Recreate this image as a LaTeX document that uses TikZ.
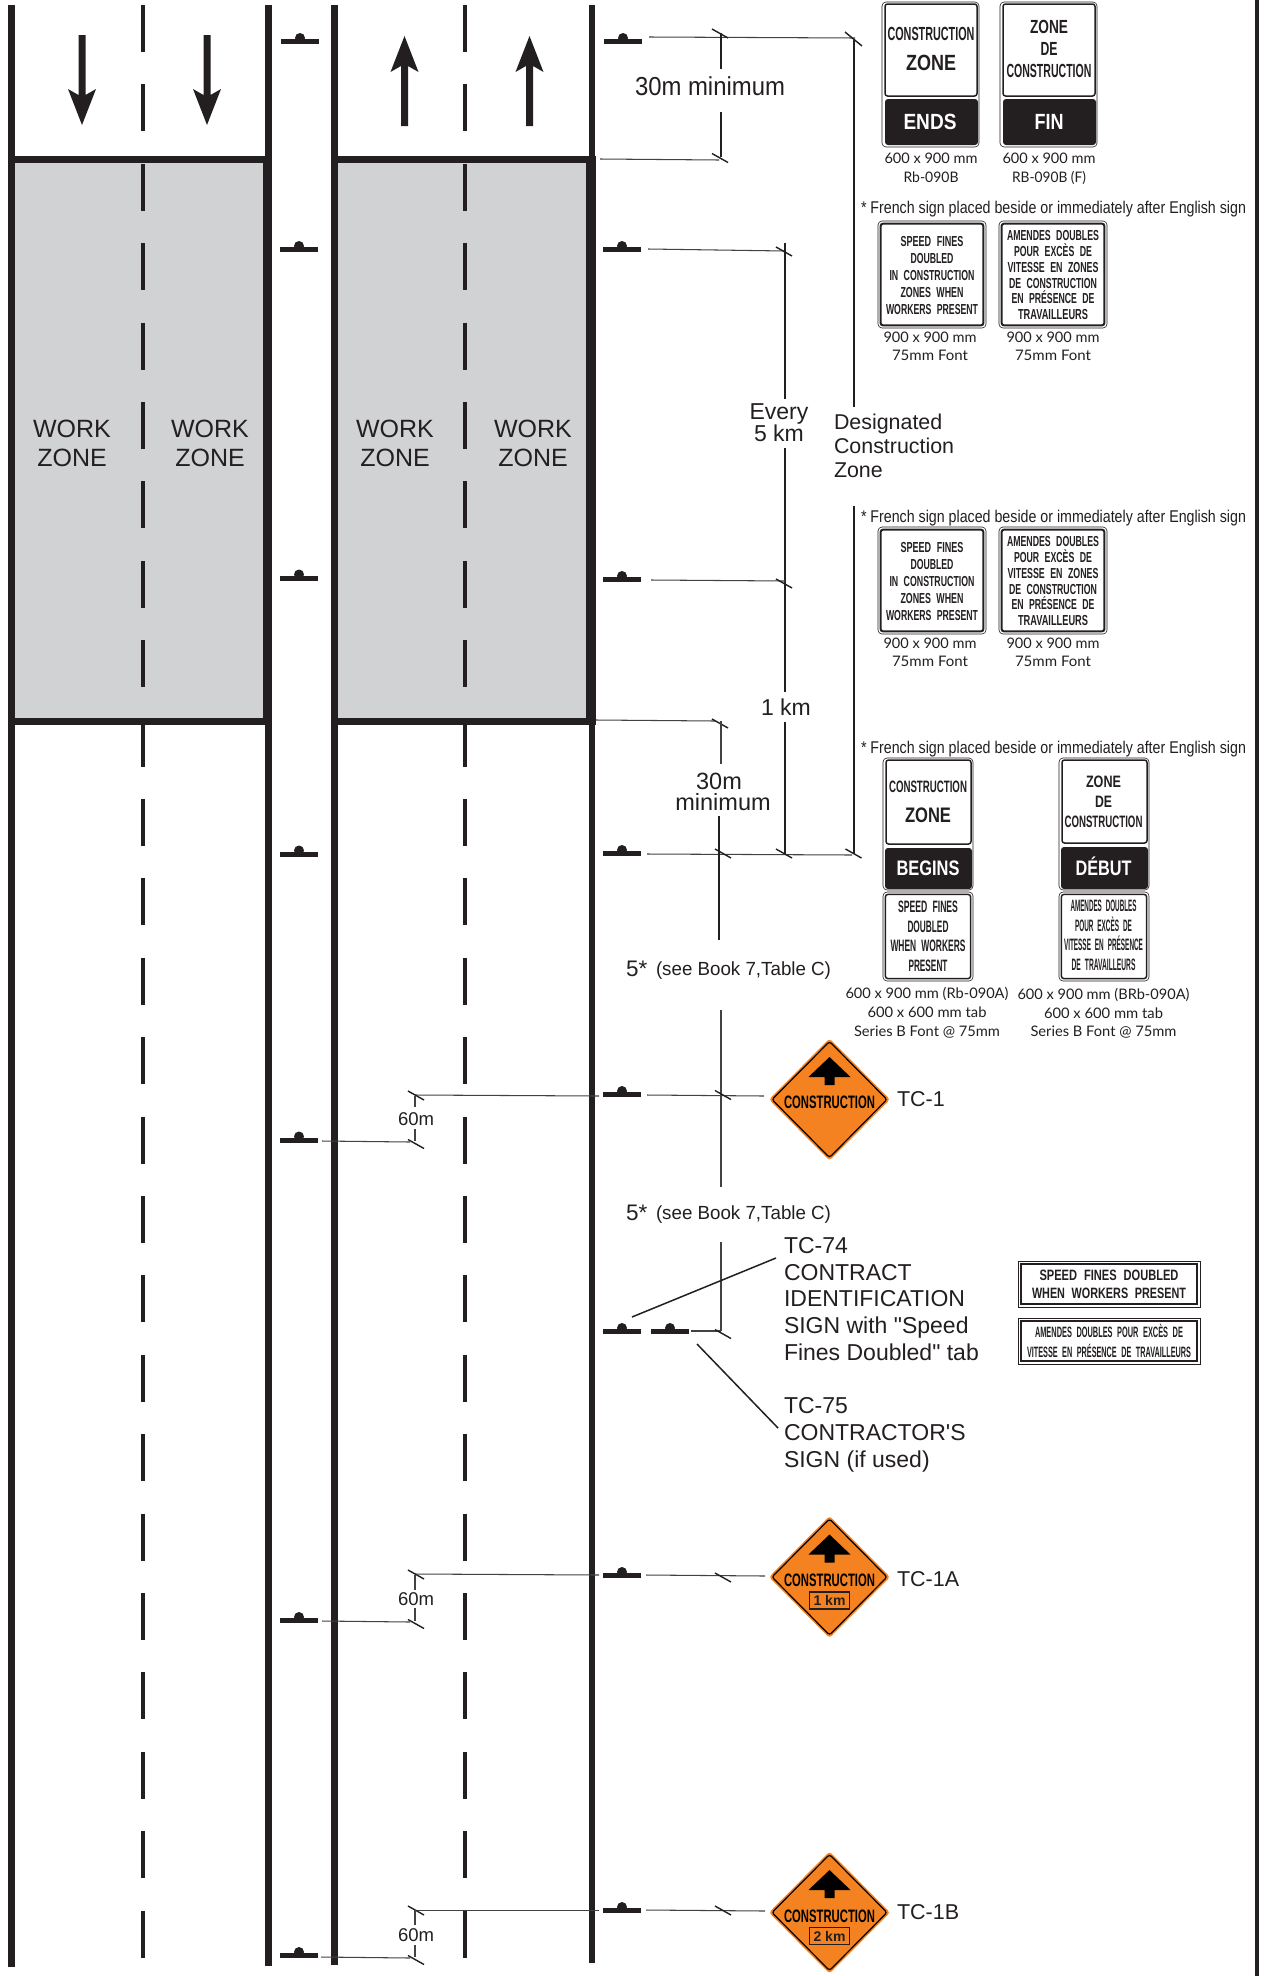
\documentclass[tikz,border=0pt]{standalone}
\usepackage{fontspec}
\usepackage{graphicx}
\setmainfont{Liberation Sans}
\newfontfamily\capfont{Lato}
\newfontfamily\plainf{Liberation Sans}
\definecolor{ink}{HTML}{231F20}
\definecolor{zonegray}{HTML}{D1D2D4}
\definecolor{signorange}{HTML}{F58220}
% fitted sign text: x, y, width, size, text
\newcommand\signtxt[6][ink]{%
  \pgfmathsetmacro\myh{0.72*#5}%
  \node[inner sep=0pt,outer sep=0pt,text=#1,text height=\myh pt,text depth=0pt,font=\bfseries]
    at (#2,#3) {\fontsize{#5}{#5}\selectfont\spaceskip=.62em\relax\resizebox{#4pt}{\height}{#6}};}
% regular fitted label
\newcommand\fittxt[5]{%
  \pgfmathsetmacro\myh{0.72*#4}%
  \node[inner sep=0pt,outer sep=0pt,text=ink,text height=\myh pt,text depth=0pt]
    at (#1,#2) {\fontsize{#4}{#4}\selectfont\resizebox{#3pt}{\height}{#5}};}
% caption text in Lato
\newcommand\captxt[4]{%
  \pgfmathsetmacro\myh{0.72*14.5}%
  \node[inner sep=0pt,outer sep=0pt,text=ink,text height=\myh pt,text depth=0pt]
    at (#1,#2) {\capfont\fontsize{14.5}{14.5}\selectfont\resizebox{#3pt}{\height}{#4}};}
% label anchored west/center
\newcommand\lab[5][west]{%
  \pgfmathsetmacro\myh{0.72*#4}%
  \node[anchor=#1,inner sep=0pt,outer sep=0pt,text=ink,text height=\myh pt,text depth=0pt]
    at (#2,#3) {\fontsize{#4}{#4}\selectfont #5};}
% roadside sign symbol
\newcommand\sym[2]{%
  \fill[ink] (#1-19,#2-2.5) rectangle (#1+19,#2+2.5);
  \fill[ink] (#1,#2-3.5) circle[radius=5pt];}
\newcommand\ticks[2]{\draw[tickline] (#1-8,#2-4.5) -- (#1+8,#2+4.5);}
% road sign frame: outer thin, inner thick
\newcommand\frm[6]{%
  \draw[ink,line width=0.6pt,rounded corners=4pt,fill=white] (#1,#2) rectangle (#3,#4);
  \draw[ink,line width=#6pt,rounded corners=2.5pt] (#1+#5,#2+#5) rectangle (#3-#5,#4-#5);}
% orange diamond
\newcommand\tcsign[3]{%
\begin{scope}[shift={(#1,#2)}]
  \fill[signorange,rounded corners=3pt] (0,-61) -- (60.5,0) -- (0,61) -- (-60.5,0) -- cycle;
  \draw[black,line width=1.2pt,rounded corners=2.5pt] (0,-58) -- (57.5,0) -- (0,58) -- (-57.5,0) -- cycle;
  \fill[black] (0,-42.5) -- (21,-22.5) -- (5,-22.5) -- (5,-14.5) -- (-5,-14.5) -- (-5,-22.5) -- (-21,-22.5) -- cycle;
  \signtxt[black]{0}{3}{91}{18}{CONSTRUCTION}
  #3
\end{scope}}
\newcommand\kmbox[1]{%
  \draw[ink,line width=1.3pt] (-20,15) rectangle (20,32);
  \node[inner sep=0pt,text=ink,font=\bfseries] at (0,23.5) {\fontsize{14}{14}\selectfont #1};}
\tikzset{
  dimline/.style={ink!85,line width=1.05pt},
  heavydim/.style={ink,line width=1.7pt},
  tickline/.style={ink,line width=1.4pt},
  roadline/.style={ink,line width=6.6pt},
  lanedash/.style={ink,line width=3.2pt},
  leader/.style={ink,line width=1.5pt}
}
\begin{document}
\begin{tikzpicture}[x=1pt,y=-1pt]
\useasboundingbox (0,0) rectangle (1265,1976);
\fill[white] (0,0) rectangle (1265,1976);
% work zones
\fill[ink] (8,156) rectangle (272,724.5);
\fill[zonegray] (15,163) rectangle (263,717.5);
\fill[ink] (331,156) rectangle (596,724.5);
\fill[zonegray] (338,163) rectangle (586,717.5);
% road edges
\draw[roadline] (11.5,5) -- (11.5,1967);
\draw[roadline] (268.5,5) -- (268.5,1966);
\draw[roadline] (334.5,5) -- (334.5,1965);
\draw[roadline] (592,5) -- (592,1963);
\draw[ink,line width=4.5pt] (1257,0) -- (1257,1976);
% lane dashes
\foreach \k in {0,...,24}{
  \pgfmathsetmacro\ya{5+79.4*\k}
  \pgfmathsetmacro\yb{\ya+47}
  \draw[lanedash] (143,\ya) -- (143,\yb);
  \draw[lanedash] (465,\ya) -- (465,\yb);
}
% direction arrows
\foreach \ax in {82,207}{
  \fill[ink] (\ax-3.5,35) -- (\ax+3.5,35) -- (\ax+3.5,95) -- (\ax+14,89) -- (\ax,125) -- (\ax-14,89) -- (\ax-3.5,95) -- cycle;}
\foreach \ax in {404.5,529.5}{
  \fill[ink] (\ax-3.5,126) -- (\ax+3.5,126) -- (\ax+3.5,66) -- (\ax+14,72) -- (\ax,36) -- (\ax-14,72) -- (\ax-3.5,66) -- cycle;}
% WORK ZONE
\foreach \wx in {72,210,395,533}{
  \lab[center]{\wx}{428}{25}{WORK}
  \lab[center]{\wx}{457}{25}{ZONE}
}
% roadside symbols
\sym{300}{41.5}\sym{299}{249.5}\sym{299}{578}\sym{299}{854}\sym{299}{1140}\sym{299}{1620.5}\sym{299}{1955.5}
\sym{623}{41.5}\sym{622}{249.5}\sym{622}{579.5}\sym{622}{853.5}\sym{622}{1094.5}\sym{622}{1331.5}\sym{670}{1331.5}\sym{622}{1575.5}\sym{622}{1910.5}
% dimension lines, upper
\draw[dimline] (649,37) -- (855,38);
\ticks{720}{33.5}
\draw[heavydim] (721,33) -- (721,69);
\draw[heavydim] (721,112) -- (721,157);
\ticks{720}{158}
\draw[dimline] (600,159) -- (719,160);
\lab[center]{710}{86}{26}{\resizebox{150pt}{\height}{30m minimum}}
\draw[tickline] (845,32) -- (862,46);
\draw[heavydim] (854,39) -- (854,407);
\draw[heavydim] (854,506) -- (854,854);
\ticks{853.5}{853.5}
\draw[dimline] (648,249) -- (785,251);
\ticks{784}{251.5}
\draw[heavydim] (785,243) -- (785,399);
\draw[heavydim] (785,448) -- (785,692);
\draw[heavydim] (785,722) -- (785,854);
\draw[dimline] (651,580) -- (786,581);
\ticks{784}{583.5}
\lab[center]{779}{411}{23}{Every}
\lab[center]{779}{433}{23}{5 km}
\lab[center]{786}{707}{23}{1 km}
\lab{834}{422}{21.4}{Designated}
\lab{834}{446}{21.4}{Construction}
\lab{834}{470}{21.4}{Zone}
% 30 m minimum lower
\draw[dimline] (596,720) -- (715,721);
\ticks{720}{723.5}
\draw[dimline] (721,721) -- (721,764);
\lab[center]{719}{781}{23.5}{30m}
\lab[center]{723}{802}{23.5}{minimum}
\draw[dimline] (647,854) -- (852,855);
\ticks{723}{853.5}
\ticks{784}{853.5}
\draw[heavydim] (719,816) -- (719,940);
\lab{626}{968}{22.5}{5*}
\fittxt{743.5}{969}{175}{19}{(see Book 7,Table C)}
\draw[dimline] (721,1010) -- (721,1187);
\lab{626}{1212}{22.5}{5*}
\fittxt{743.5}{1213}{175}{19}{(see Book 7,Table C)}
\draw[dimline] (721,1242) -- (721,1331);
% TC-1 row
\draw[dimline] (415,1095) -- (599,1096);
\draw[dimline] (647,1095) -- (764,1096);
\ticks{723}{1095}
\ticks{416}{1095.5}
\draw[dimline] (415,1096) -- (415,1107);
\lab[center]{416}{1119}{18.5}{60m}
\draw[dimline] (415,1129) -- (415,1141);
\ticks{416}{1144}
\draw[dimline] (322,1141) -- (410,1142);
% TC-74 / 75
\draw[leader] (632,1317) -- (776,1258);
\draw[dimline] (691,1331) -- (721,1331);
\ticks{723}{1334}
\draw[leader] (697,1344) -- (778,1428);
\lab{784}{1245}{23}{TC-74}
\lab{784}{1272}{23}{CONTRACT}
\lab{784}{1298}{23}{IDENTIFICATION}
\lab{784}{1325}{23}{{\plainf SIGN with "Speed}}
\lab{784}{1352}{23}{{\plainf Fines Doubled" tab}}
\lab{784}{1405}{23}{TC-75}
\lab{784}{1432}{23}{{\plainf CONTRACTOR'S}}
\lab{784}{1459}{23}{SIGN (if used)}
% TC-1A row
\draw[dimline] (415,1574) -- (599,1575);
\draw[dimline] (646,1575) -- (765,1576);
\ticks{723}{1577.5}
\ticks{416}{1574.5}
\draw[dimline] (415,1575) -- (415,1590);
\lab[center]{416}{1599}{18.5}{60m}
\draw[dimline] (415,1608) -- (415,1621);
\ticks{416}{1624}
\draw[dimline] (322,1621) -- (410,1622);
% TC-1B row
\draw[dimline] (415,1910.5) -- (599,1910.5);
\draw[dimline] (646,1910) -- (765,1911);
\ticks{723}{1910.5}
\ticks{416}{1910.5}
\draw[dimline] (415,1910) -- (415,1925);
\lab[center]{416}{1935}{18.5}{60m}
\draw[dimline] (415,1945) -- (415,1957);
\ticks{416}{1960}
\draw[dimline] (321,1957) -- (410,1958);
% orange signs
\tcsign{829.5}{1099.5}{}
\lab{897}{1099}{21.5}{TC-1}
\tcsign{829.5}{1577}{\kmbox{1 km}}
\lab{897}{1579}{21.5}{TC-1A}
\tcsign{829.5}{1912.5}{\kmbox{2 km}}
\lab{897}{1912}{21.5}{TC-1B}
% Rb-090B
\draw[ink,line width=0.6pt,rounded corners=4pt] (882,2) rectangle (979,147);
\draw[ink,line width=1.5pt,rounded corners=2.5pt] (885,4) rectangle (977,96);
\fill[ink,rounded corners=3pt] (885,99) rectangle (978,145);
\signtxt{931}{34}{87}{19}{CONSTRUCTION}
\signtxt{931}{63}{50}{22}{ZONE}
\signtxt[white]{930}{122}{53}{22}{ENDS}
\captxt{931}{158}{93}{600 x 900 mm}
\captxt{931}{177}{55}{Rb-090B}
% RB-090B F
\draw[ink,line width=0.6pt,rounded corners=4pt] (1000,2) rectangle (1097,147);
\draw[ink,line width=1.5pt,rounded corners=2.5pt] (1003,4) rectangle (1095,96);
\fill[ink,rounded corners=3pt] (1003,99) rectangle (1096,145);
\signtxt{1049}{27}{38}{19}{ZONE}
\signtxt{1049}{49}{17}{19}{DE}
\signtxt{1049}{71}{85}{19}{CONSTRUCTION}
\signtxt[white]{1049}{122}{29}{22}{FIN}
\captxt{1049}{158}{93}{600 x 900 mm}
\captxt{1049}{177}{74}{RB-090B (F)}
% French notes
\fittxt{1053.5}{207}{385}{17}{* French sign placed beside or immediately after English sign}
\fittxt{1053.5}{516}{385}{17}{* French sign placed beside or immediately after English sign}
\fittxt{1053.5}{747}{385}{17}{* French sign placed beside or immediately after English sign}
% square sign pairs
\foreach \dy in {0,306}{
  \begin{scope}[shift={(0,\dy)}]
  \frm{878}{221}{986}{328}{2.6}{2}
  \signtxt{932}{241}{63}{14.5}{SPEED FINES}
  \signtxt{932}{258}{43}{14.5}{DOUBLED}
  \signtxt{932}{275}{85}{14.5}{IN CONSTRUCTION}
  \signtxt{932}{292}{63}{14.5}{ZONES WHEN}
  \signtxt{932}{309}{92}{14.5}{WORKERS PRESENT}
  \captxt{930}{337}{93}{900 x 900 mm}
  \captxt{930}{355}{76}{75mm Font}
  \frm{999}{221}{1107}{328}{2.6}{2}
  \signtxt{1053}{235}{92}{14.5}{AMENDES DOUBLES}
  \signtxt{1053}{251}{78}{14.5}{POUR EXCÈS DE}
  \signtxt{1053}{267}{91}{14.5}{VITESSE EN ZONES}
  \signtxt{1053}{283}{88}{14.5}{DE CONSTRUCTION}
  \signtxt{1053}{298}{83}{14.5}{EN PRÉSENCE DE}
  \signtxt{1053}{314}{70}{14.5}{TRAVAILLEURS}
  \captxt{1053}{337}{93}{900 x 900 mm}
  \captxt{1053}{355}{76}{75mm Font}
  \end{scope}
}
% BEGINS sign
\draw[ink,line width=0.6pt,rounded corners=4pt] (883,758) rectangle (973,890);
\draw[ink,line width=1.5pt,rounded corners=2.5pt] (886,760) rectangle (971,844);
\fill[ink,rounded corners=3pt] (885,848) rectangle (972,889);
\signtxt{928}{787}{78}{16.5}{CONSTRUCTION}
\signtxt{928}{815}{46}{21}{ZONE}
\signtxt[white]{928}{868}{63}{21}{BEGINS}
\frm{883}{892}{973}{981}{2.4}{1.5}
\signtxt{928}{907}{60}{16.5}{SPEED FINES}
\signtxt{928}{927}{41}{16.5}{DOUBLED}
\signtxt{928}{946}{75}{16.5}{WHEN WORKERS}
\signtxt{928}{966}{39}{16.5}{PRESENT}
\captxt{927}{993}{163}{600 x 900 mm (Rb-090A)}
\captxt{927}{1012}{119}{600 x 600 mm tab}
\captxt{927}{1031}{146}{Series B Font @ 75mm}
% DEBUT sign
\draw[ink,line width=0.6pt,rounded corners=4pt] (1059,758) rectangle (1149,890);
\draw[ink,line width=1.5pt,rounded corners=2.5pt] (1062,760) rectangle (1147,843);
\fill[ink,rounded corners=3pt] (1061,847) rectangle (1148,889);
\signtxt{1103.5}{782}{35}{16.5}{ZONE}
\signtxt{1103.5}{802}{17}{16.5}{DE}
\signtxt{1103.5}{822}{78}{16.5}{CONSTRUCTION}
\signtxt[white]{1103.5}{868}{56}{21}{DÉBUT}
\frm{1059}{892}{1149}{981}{2.4}{1.5}
\signtxt{1103.5}{906}{66}{16.5}{AMENDES DOUBLES}
\signtxt{1103.5}{926}{57}{16.5}{POUR EXCÈS DE}
\signtxt{1103.5}{945}{79}{16.5}{VITESSE EN PRÉSENCE}
\signtxt{1103.5}{965}{64}{16.5}{DE TRAVAILLEURS}
\captxt{1103.5}{994}{172}{600 x 900 mm (BRb-090A)}
\captxt{1103.5}{1013}{119}{600 x 600 mm tab}
\captxt{1103.5}{1031}{146}{Series B Font @ 75mm}
% tab signs
\draw[ink,line width=0.6pt] (1018,1261) rectangle (1200,1307);
\draw[ink,line width=1.8pt] (1021,1264) rectangle (1197,1304);
\signtxt{1109}{1275}{139}{15}{SPEED FINES DOUBLED}
\signtxt{1109}{1293}{154}{15}{WHEN WORKERS PRESENT}
\draw[ink,line width=0.6pt] (1018,1318) rectangle (1200,1364);
\draw[ink,line width=1.8pt] (1021,1321) rectangle (1197,1361);
\signtxt{1109}{1332}{148}{15}{AMENDES DOUBLES POUR EXCÈS DE}
\signtxt{1109}{1352}{164}{15}{VITESSE EN PRÉSENCE DE TRAVAILLEURS}
\end{tikzpicture}
\end{document}
